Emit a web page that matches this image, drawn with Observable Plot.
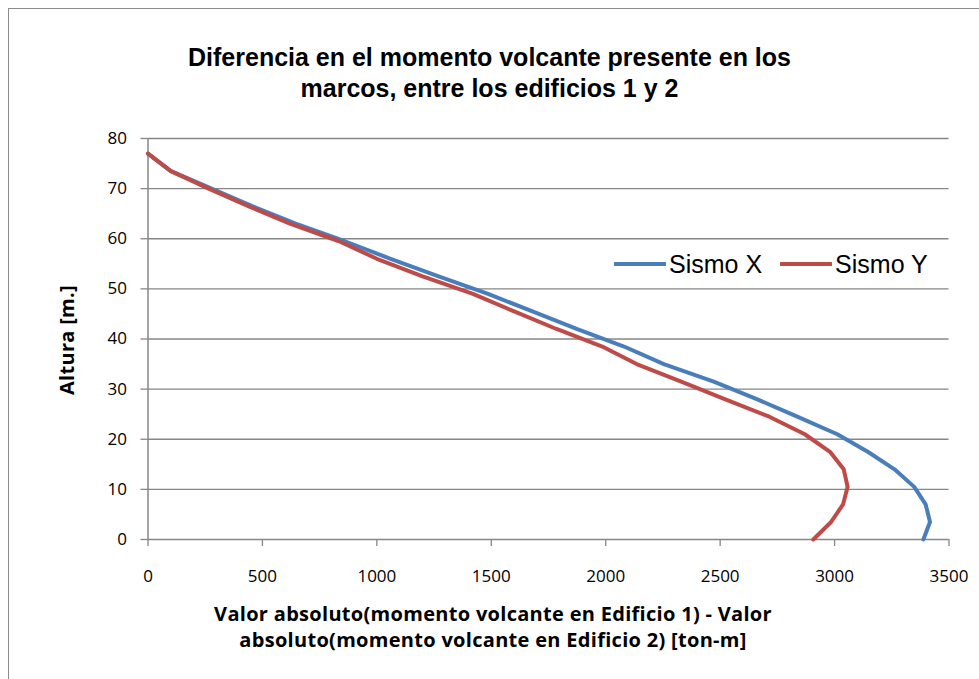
<!DOCTYPE html>
<html>
<head>
<meta charset="utf-8">
<script src="https://cdn.jsdelivr.net/npm/d3@7"></script>
<script src="https://cdn.jsdelivr.net/npm/@observablehq/plot@0.6"></script>
<style>
  html, body { margin: 0; padding: 0; background: #fff; }
  #wrap { position: relative; width: 979px; height: 679px; overflow: hidden; background: #fff; }
  #frame { position: absolute; left: 8px; top: 8px; width: 1000px; height: 700px;
           border-left: 1.5px solid #8c8c8c; border-top: 1.5px solid #8c8c8c; }
  #chart { position: absolute; left: 0; top: 0; }
  .title { position: absolute; left: 0; width: 979px; text-align: center; line-height: 30px;
           font-family: "Liberation Sans", Arial, sans-serif; font-weight: bold; font-size: 25px; color: #000; }
  .xtitle { position: absolute; left: 0; width: 986px; text-align: center; line-height: 26px;
            font-family: "Open Sans", sans-serif; font-weight: bold; font-size: 20px; letter-spacing: 0.3px; color: #000; }
  #ytitle { position: absolute; left: 66px; top: 340px; transform: translate(-50%, -50%) rotate(-90deg);
            font-family: "Open Sans", sans-serif; font-weight: bold; font-size: 20px; letter-spacing: 0.3px; white-space: nowrap; }
  #legend { position: absolute; left: 614px; top: 248px; font-family: "Liberation Sans", Arial, sans-serif;
            font-size: 25px; line-height: 32px; display: flex; align-items: center; }
  #legend .item { display: flex; align-items: center; margin-right: 18px; }
  #legend svg { margin-right: 3px; }
</style>
</head>
<body>
<div id="wrap">
  <div id="frame"></div>
  <div id="chart"></div>
  <div class="title" style="top:42px">Diferencia en el momento volcante presente en los</div>
  <div class="title" style="top:73px">marcos, entre los edificios 1 y 2</div>
  <div class="xtitle" style="top:601px">Valor absoluto(momento volcante en Edificio 1) - Valor</div>
  <div class="xtitle" style="top:627px">absoluto(momento volcante en Edificio 2) [ton-m]</div>
  <div id="ytitle">Altura [m.]</div>
  <div id="legend"></div>
</div>
<script>
// Heights of each floor level [m]
const heights = [0, 3.5, 7, 10.5, 14, 17.5, 21, 24.5, 28, 31.5, 35, 38.5, 42, 45.5, 49, 52.5, 56, 59.5, 63, 66.5, 70, 73.5, 77];
// Sismo X differences [ton-m]
const sismoX = [3388, 3417, 3398, 3348, 3262, 3145, 3012, 2837, 2660, 2472, 2254, 2080, 1873, 1680, 1486, 1270, 1060, 860, 645, 455, 278, 100, 0];
// Sismo Y differences [ton-m]
const sismoY = [2907, 2985, 3037, 3057, 3040, 2980, 2870, 2715, 2520, 2330, 2135, 1985, 1785, 1600, 1420, 1200, 1000, 835, 620, 438, 265, 100, 0];
const seriesNames = ["Sismo X", "Sismo Y"];
const seriesColors = ["#4a7ebb", "#be4b48"];
const xTicks = [0, 500, 1000, 1500, 2000, 2500, 3000, 3500];
const yTicks = [0, 10, 20, 30, 40, 50, 60, 70, 80];

const data = [];
heights.forEach((h, i) => {
  data.push({serie: seriesNames[0], x: sismoX[i], y: h});
  data.push({serie: seriesNames[1], x: sismoY[i], y: h});
});

const gray = "#868686";
const chart = Plot.plot({
  width: 979,
  height: 679,
  marginLeft: 147.5,
  marginRight: 30.5,
  marginTop: 138,
  marginBottom: 140,
  style: {fontFamily: "'Open Sans', sans-serif", fontSize: "17px", color: "#000", background: "transparent"},
  x: {domain: [0, 3500], label: null},
  y: {domain: [0, 80], label: null},
  color: {domain: seriesNames, range: seriesColors},
  marks: [
    Plot.gridY(yTicks.filter(d => d > 0), {stroke: gray, strokeOpacity: 1, strokeWidth: 1.3}),
    Plot.axisY(yTicks, {tickSize: 7, tickPadding: 14, tickFormat: d => String(d), stroke: gray, strokeWidth: 1.3, fill: "#000", fontSize: 17, label: null}),
    Plot.axisX(xTicks, {tickSize: 7, tickPadding: 23, tickFormat: d => String(d), stroke: gray, strokeWidth: 1.3, fill: "#000", fontSize: 17, label: null}),
    Plot.ruleX([0], {stroke: gray, strokeWidth: 1.5}),
    Plot.ruleY([0], {stroke: gray, strokeWidth: 1.5}),
    Plot.line(data, {x: "x", y: "y", z: "serie", stroke: "serie", strokeWidth: 4, strokeLinejoin: "round"})
  ]
});
document.getElementById("chart").appendChild(chart);

const legend = document.getElementById("legend");
seriesNames.forEach((n, i) => {
  const item = document.createElement("div");
  item.className = "item";
  item.innerHTML = `<svg width="52" height="6"><line x1="1" y1="3" x2="51" y2="3" stroke="${seriesColors[i]}" stroke-width="4" stroke-linecap="round"/></svg><span>${n}</span>`;
  legend.appendChild(item);
});
</script>
</body>
</html>
